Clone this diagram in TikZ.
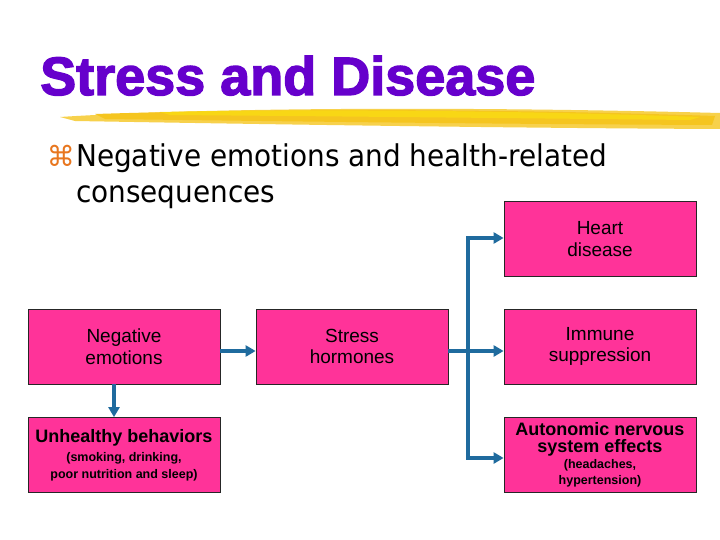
\documentclass[tikz,border=0pt]{standalone}
\usepackage{fontspec}
\setmainfont{Liberation Sans}
\newfontfamily\subfont{DejaVu Sans}
\usetikzlibrary{arrows.meta, positioning, calc}
\definecolor{cpurple}{HTML}{6600CC}
\definecolor{cpink}{HTML}{FF3399}
\definecolor{carrow}{HTML}{1F6B9E}
\definecolor{cyellow}{HTML}{F5C51F}
\definecolor{corange}{HTML}{E8761E}
\tikzset{
  box/.style={draw=black!85, line width=0.8pt, fill=cpink, minimum width=192pt, minimum height=75pt,
    align=center, inner sep=2pt, font=\fontsize{19}{21.5}\selectfont},
  arrow/.style={-{Triangle[length=10pt, width=11pt]}, draw=carrow, line width=4.5pt},
}
\begin{document}
\begin{tikzpicture}[x=1pt, y=-1pt]
  \useasboundingbox[fill=white] (0,0) rectangle (720,540);
  % yellow brush stroke under the title
  \fill[cyellow!80] (60,117) .. controls (200,108) and (450,106) .. (720,113)
    -- (720,129) .. controls (500,128) and (250,124) .. (75,121) -- cycle;
  \fill[cyellow] (95,114) .. controls (250,109) and (480,108) .. (715,116)
    -- (712,125) .. controls (480,124) and (260,121) .. (105,119) -- cycle;
  \fill[yellow!60!cyellow, opacity=0.7] (160,112) .. controls (300,109) and (500,110) .. (700,117)
    -- (690,120) .. controls (500,118) and (300,116) .. (170,115) -- cycle;
  \node[anchor=base west, text=cpurple, inner sep=0pt, transform shape,
    font=\fontsize{54}{60}\selectfont\bfseries\addfontfeature{FakeBold=2.5}] (title) at (40,95) {Stress and Disease};
  % bullet line
  \node[anchor=base east, inner sep=0pt, text=corange, font=\subfont\fontsize{28}{34}\selectfont] (bullet) at (75,167) {⌘};
  \node[anchor=base west, inner sep=0pt, xscale=0.93, transform shape, font=\subfont\fontsize{30}{36}\selectfont] (line1) at (76,167) {Negative emotions and health-related};
  \node[anchor=base west, inner sep=0pt, xscale=0.93, transform shape, font=\subfont\fontsize{30}{36}\selectfont] (line2) at (76,203) {consequences};
  % boxes
  \node[box] (heart) at (600,239) {Heart\\disease};
  \node[box] (negative) at (124,346.5) {Negative\\emotions};
  \node[box] (stress) at (352,346.5) {Stress\\hormones};
  \node[box] (immune) at (600,346.5) {Immune\\suppression};
  \node[box, font=\fontsize{12.5}{17}\selectfont\bfseries] (unhealthy) at (124,455)
    {{\fontsize{18}{17}\selectfont Unhealthy behaviors}\\[2pt](smoking, drinking,\\poor nutrition and sleep)};
  \node[box, font=\fontsize{12.5}{16}\selectfont\bfseries] (autonomic) at (600,455)
    {{\fontsize{18}{16}\selectfont Autonomic nervous}\\[1.5pt]{\fontsize{18}{16}\selectfont system effects}\\(headaches,\\hypertension)};
  % connectors
  \coordinate (trunk) at (468,351);
  \draw[arrow] ([yshift=-4.5pt]negative.east) -- ([yshift=-4.5pt]stress.west);
  \draw[arrow] ([yshift=-4.5pt]stress.east) -- ([yshift=-4.5pt]immune.west);
  \draw[arrow] ([xshift=-10pt]negative.south) -- ([xshift=-10pt]unhealthy.north);
  \draw[arrow] (trunk) |- ([yshift=1pt]heart.west);
  \draw[arrow] (trunk) |- ([yshift=-3pt]autonomic.west);
\end{tikzpicture}
\end{document}
